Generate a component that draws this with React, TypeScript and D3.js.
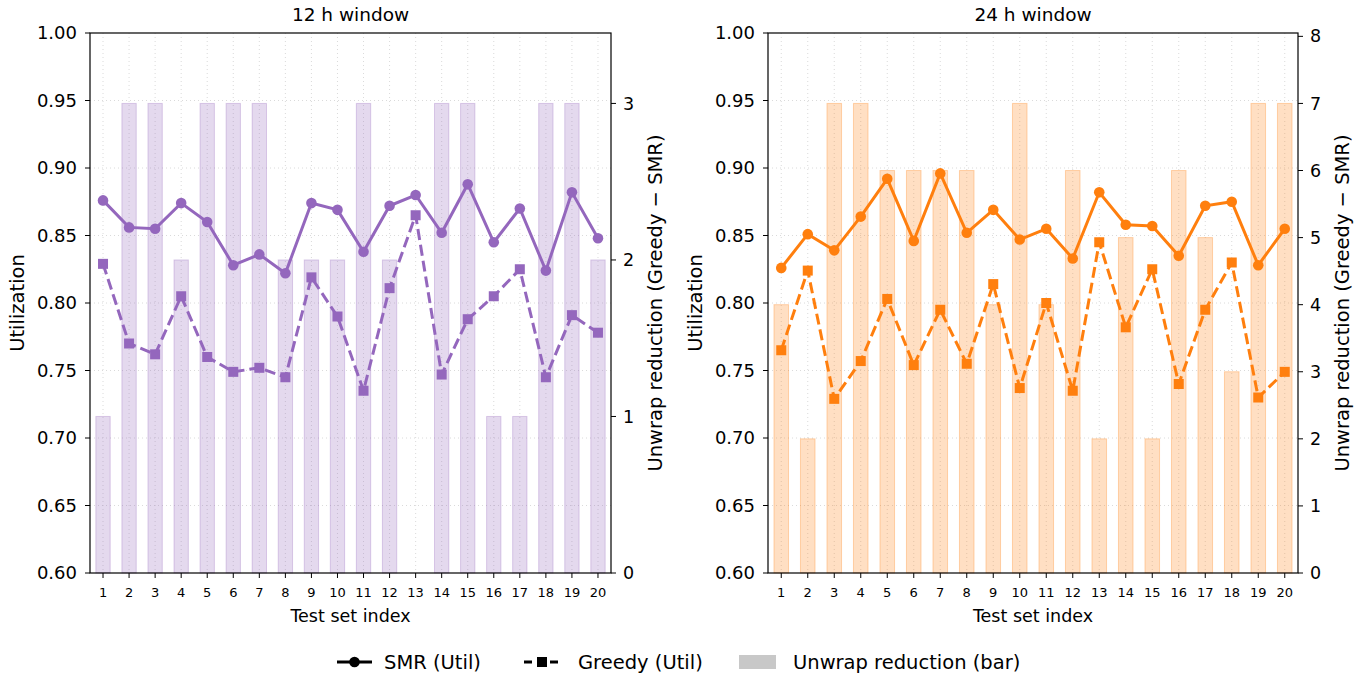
import React from 'react'
import * as d3 from 'd3'

const testSets = d3.range(1, 21)

const smr12 = [0.876, 0.856, 0.855, 0.874, 0.860, 0.828, 0.836, 0.822, 0.874, 0.869, 0.838, 0.872, 0.880, 0.852, 0.888, 0.845, 0.870, 0.824, 0.882, 0.848]
const greedy12 = [0.829, 0.770, 0.762, 0.805, 0.760, 0.749, 0.752, 0.745, 0.819, 0.790, 0.735, 0.811, 0.865, 0.747, 0.788, 0.805, 0.825, 0.745, 0.791, 0.778]
const unwrap12 = [1, 3, 3, 2, 3, 3, 3, 2, 2, 2, 3, 2, 0, 3, 3, 1, 1, 3, 3, 2]

const smr24 = [0.826, 0.851, 0.839, 0.864, 0.892, 0.846, 0.896, 0.852, 0.869, 0.847, 0.855, 0.833, 0.882, 0.858, 0.857, 0.835, 0.872, 0.875, 0.828, 0.855]
const greedy24 = [0.765, 0.824, 0.729, 0.757, 0.803, 0.754, 0.795, 0.755, 0.814, 0.737, 0.800, 0.735, 0.845, 0.782, 0.825, 0.740, 0.795, 0.830, 0.730, 0.749]
const unwrap24 = [4, 2, 7, 7, 6, 6, 6, 6, 4, 7, 4, 6, 2, 5, 2, 6, 5, 3, 7, 7]

const utilTicks = [0.60, 0.65, 0.70, 0.75, 0.80, 0.85, 0.90, 0.95, 1.00]

const FONT = 'DejaVu Sans, sans-serif'
const TOP = 33
const BOTTOM = 573
const DASH = '11,5'

const Panel = ({title, left, right, color, smr, greedy, bars}) => {
  const x = d3.scaleLinear().domain([0.5, 20.5]).range([left, right])
  const y = d3.scaleLinear().domain([0.6, 1.0]).range([BOTTOM, TOP])
  const barMax = d3.max(bars) * 1.15
  const y2 = d3.scaleLinear().domain([0, barMax]).range([BOTTOM, TOP])
  const rightTicks = d3.range(0, Math.floor(barMax) + 1)
  const bw = (x(1.55) - x(1))

  const line = d3.line().x((d, i) => x(testSets[i])).y(d => y(d))
  const mid = (left + right) / 2

  return (
    <g>
      {/* grid */}
      <g stroke="#d0d0d0" strokeWidth={0.8} strokeDasharray="1,3">
        {utilTicks.slice(1, -1).map(t => <line key={'h' + t} x1={left} x2={right} y1={y(t)} y2={y(t)}/>)}
        {testSets.map(t => <line key={'v' + t} x1={x(t)} x2={x(t)} y1={TOP} y2={BOTTOM}/>)}
      </g>
      {/* bars */}
      <g>
        {bars.map((b, i) => b > 0 && (
          <rect key={i} x={x(testSets[i]) - bw / 2} width={bw} y={y2(b)} height={BOTTOM - y2(b)}
            fill={color} fillOpacity={0.25} stroke={color} strokeOpacity={0.3} strokeWidth={1}/>
        ))}
      </g>
      {/* lines */}
      <path d={line(greedy)} fill="none" stroke={color} strokeWidth={3} strokeDasharray={DASH}/>
      {greedy.map((v, i) => <rect key={i} x={x(testSets[i]) - 5} y={y(v) - 5} width={10} height={10} fill={color}/>)}
      <path d={line(smr)} fill="none" stroke={color} strokeWidth={3}/>
      {smr.map((v, i) => <circle key={i} cx={x(testSets[i])} cy={y(v)} r={5.3} fill={color}/>)}

      {/* frame */}
      <rect x={left} y={TOP} width={right - left} height={BOTTOM - TOP} fill="none" stroke="#000" strokeWidth={1.2}/>

      {/* left axis */}
      {utilTicks.map(t => (
        <g key={t}>
          <line x1={left - 5} x2={left} y1={y(t)} y2={y(t)} stroke="#000" strokeWidth={1}/>
          <text x={left - 13} y={y(t)} dy="0.35em" textAnchor="end" fontSize={18} fontFamily={FONT}>{t.toFixed(2)}</text>
        </g>
      ))}
      {/* right axis */}
      {rightTicks.map(t => (
        <g key={t}>
          <line x1={right} x2={right + 5} y1={y2(t)} y2={y2(t)} stroke="#000" strokeWidth={1}/>
          <text x={right + 12} y={y2(t)} dy="0.35em" textAnchor="start" fontSize={17.5} fontFamily={FONT}>{t}</text>
        </g>
      ))}
      {/* x axis */}
      {testSets.map(t => (
        <g key={t}>
          <line x1={x(t)} x2={x(t)} y1={BOTTOM} y2={BOTTOM + 5} stroke="#000" strokeWidth={1}/>
          <text x={x(t)} y={BOTTOM + 19} dy="0.35em" textAnchor="middle" fontSize={13} fontFamily={FONT}>{t}</text>
        </g>
      ))}

      <text x={mid} y={15} dy="0.35em" textAnchor="middle" fontSize={18.5} fontFamily={FONT}>{title}</text>
      <text x={mid} y={616} dy="0.35em" textAnchor="middle" fontSize={17.5} fontFamily={FONT}>Test set index</text>
      <text transform={`translate(${left - 73},${(TOP + BOTTOM) / 2}) rotate(-90)`} dy="0.35em" textAnchor="middle" fontSize={19.5} fontFamily={FONT}>Utilization</text>
      <text transform={`translate(${right + 44},${(TOP + BOTTOM) / 2}) rotate(-90)`} dy="0.35em" textAnchor="middle" fontSize={19.5} fontFamily={FONT}>Unwrap reduction (Greedy − SMR)</text>
    </g>
  )
}

const Legend = () => {
  const ly = 662
  return (
    <g fontFamily={FONT} fontSize={19.5}>
      <line x1={337} x2={372} y1={ly} y2={ly} stroke="#000" strokeWidth={3}/>
      <circle cx={354.5} cy={ly} r={5.3} fill="#000"/>
      <text x={384} y={ly} dy="0.35em">SMR (Util)</text>

      <line x1={524} x2={560} y1={ly} y2={ly} stroke="#000" strokeWidth={3} strokeDasharray="8,5"/>
      <rect x={537} y={ly - 5} width={10} height={10} fill="#000"/>
      <text x={578} y={ly} dy="0.35em">Greedy (Util)</text>

      <rect x={739} y={ly - 7} width={37} height={14} fill="#c8c8c8"/>
      <text x={793} y={ly} dy="0.35em">Unwrap reduction (bar)</text>
    </g>
  )
}

export default function App() {
  return (
    <svg width={1354} height={673} style={{position: 'absolute', left: 0, top: 0, background: '#fff'}}>
      <rect width={1354} height={673} fill="#fff"/>
      <Panel title="12 h window" left={90} right={611} color="#9467bd" smr={smr12} greedy={greedy12} bars={unwrap12}/>
      <Panel title="24 h window" left={768} right={1298} color="#ff7f0e" smr={smr24} greedy={greedy24} bars={unwrap24}/>
      <Legend/>
    </svg>
  )
}
